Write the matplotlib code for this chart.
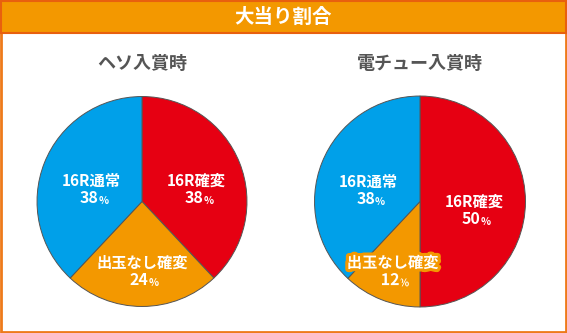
import matplotlib.pyplot as plt
import matplotlib.patheffects as pe
from matplotlib.patches import Rectangle

plt.rcParams['font.family'] = ['Noto Sans CJK JP', 'DejaVu Sans']

W, H = 567, 333

title = "大当り割合"
pie_titles = ["ヘソ入賞時", "電チュー入賞時"]
labels = ["16R確変", "出玉なし確変", "16R通常"]
heso_values = [38, 24, 38]
denchu_values = [50, 12, 38]
colors = ["#E60012", "#F39800", "#00A0E9"]

# label spots inside each pie (axes data units, radius = 1)
heso_pos = [(0.52, 0.12), (0.0, -0.66), (-0.48, 0.12)]
denchu_pos = [(0.51, -0.08), (-0.26, -0.66), (-0.49, 0.11)]

fig = plt.figure(figsize=(W / 100, H / 100), dpi=100)


def px(x0, y0, w, h):
    # pixel box (top-left origin) -> figure fraction rect
    return [x0 / W, 1 - (y0 + h) / H, w / W, h / H]


# outer frame and header bar
bg = fig.add_axes([0, 0, 1, 1])
bg.set_xlim(0, W)
bg.set_ylim(H, 0)
bg.axis("off")
bg.add_patch(Rectangle((1, 1), W - 2, H - 2, fill=False, ec="#EE7A1A", lw=2))
bg.add_patch(Rectangle((1, 1), W - 2, 32, fc="#F39800", ec="#E8600E", lw=1.5))
bg.text(W / 2, 17, title, color="white", fontsize=14, fontweight="bold",
        ha="center", va="center")

centers = [142, 420]
for cx, name in zip(centers, pie_titles):
    bg.text(cx, 63, name, color="#555555", fontsize=13, fontweight="bold",
            ha="center", va="center")


def draw_pie(rect, values, positions, outlined):
    ax = fig.add_axes(rect)
    ax.pie(values, colors=colors, startangle=90, counterclock=False,
           wedgeprops=dict(edgecolor="#555555", linewidth=0.7))
    ax.set_xlim(-1.005, 1.005)
    ax.set_ylim(-1.005, 1.005)
    ax.set_aspect("equal")
    for i, (lab, val, (x, y)) in enumerate(zip(labels, values, positions)):
        fx = []
        if outlined[i]:
            fx = [pe.withStroke(linewidth=4.5, foreground="#F39800")]
        ax.text(x, y + 0.08, lab, color="white", fontsize=11, fontweight="bold",
                ha="center", va="center", path_effects=fx)
        num = ax.text(x + 0.065, y - 0.085, str(val), color="white",
                      fontsize=11.5, fontweight="bold", ha="right", va="center",
                      path_effects=fx)
        # small percent sign hung off the right edge of the number
        ax.annotate("%", xy=(1, 0.3), xycoords=num, xytext=(-0.2, 0),
                    textcoords="offset points", color="white", fontsize=7.5,
                    fontweight="bold", ha="left", va="center", path_effects=fx,
                    zorder=2.9)
    return ax


draw_pie(px(36.5, 96, 211, 211), heso_values, heso_pos, [False, False, False])
draw_pie(px(314, 95.5, 212, 212), denchu_values, denchu_pos, [False, True, False])

fig.savefig("out.png", dpi=100)
